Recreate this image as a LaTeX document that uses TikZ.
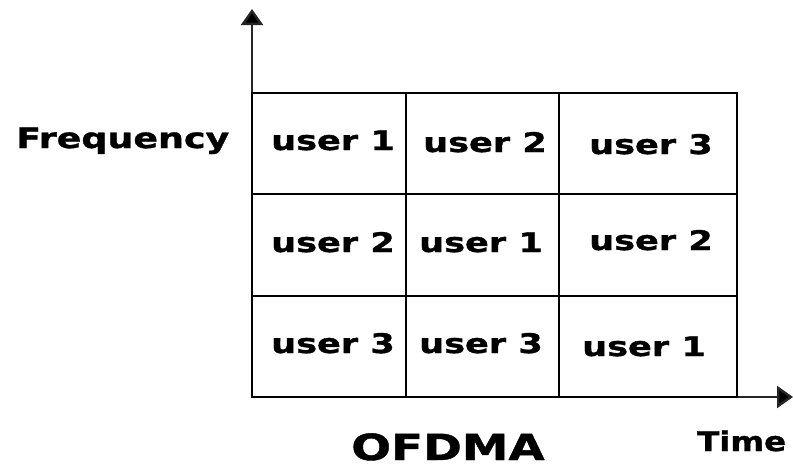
\documentclass[tikz,border=0pt]{standalone}
\usepackage{fontspec}
\usetikzlibrary{arrows.meta}
\newfontfamily\labelfont[FakeStretch=1.3,FakeBold=1.2]{DejaVu Sans}
\newfontfamily\narrowlabelfont[FakeStretch=1.2,FakeBold=1.2]{DejaVu Sans}

\tikzset{
  cellline/.style={line width=2.2pt, black},
  axisline/.style={line width=2.4pt, black!85, -{Triangle[width=22pt,length=16pt,fill=black]}},
  usertext/.style={anchor=base, inner sep=0pt, font=\labelfont\bfseries\fontsize{27}{30}\selectfont},
  axistext/.style={anchor=base west, inner sep=0pt, font=\labelfont\bfseries\fontsize{28}{32}\selectfont},
  titletext/.style={anchor=base, inner sep=0pt, font=\labelfont\bfseries\fontsize{36}{40}\selectfont}
}

\begin{document}
\begin{tikzpicture}[x=1pt, y=-1pt]
  \useasboundingbox[fill=white] (0,0) rectangle (793,469);

  % axes
  \coordinate (O) at (252,397);
  \coordinate (ytip) at (252,9);
  \coordinate (xtip) at (793,397);
  \draw[axisline] (O) -- (ytip);
  \draw[axisline] (O) -- (xtip);

  % resource grid: 3 time slots x 3 sub-channels
  \draw[cellline] (252,93) rectangle (737,397);
  \draw[cellline] (406,93) -- (406,397);
  \draw[cellline] (559,93) -- (559,397);
  \draw[cellline] (252,194) -- (737,194);
  \draw[cellline] (252,296) -- (737,296);

  % allocations
  \node[usertext] (r1c1) at (333,150) {user 1};
  \node[usertext] (r1c2) at (485,152) {user 2};
  \node[usertext] (r1c3) at (651,154) {user 3};
  \node[usertext] (r2c1) at (333,252) {user 2};
  \node[usertext] (r2c2) at (481,252) {user 1};
  \node[usertext] (r2c3) at (651,250) {user 2};
  \node[usertext] (r3c1) at (333,353) {user 3};
  \node[usertext] (r3c2) at (481,353) {user 3};
  \node[usertext] (r3c3) at (644,356) {user 1};

  % axis labels and title
  \node[axistext] (freq) at (16,148) {Frequency};
  \node[axistext, font=\narrowlabelfont\bfseries\fontsize{27}{30}\selectfont] (time) at (697,451) {Time};
  \node[titletext] (title) at (448,460) {OFDMA};
\end{tikzpicture}
\end{document}
